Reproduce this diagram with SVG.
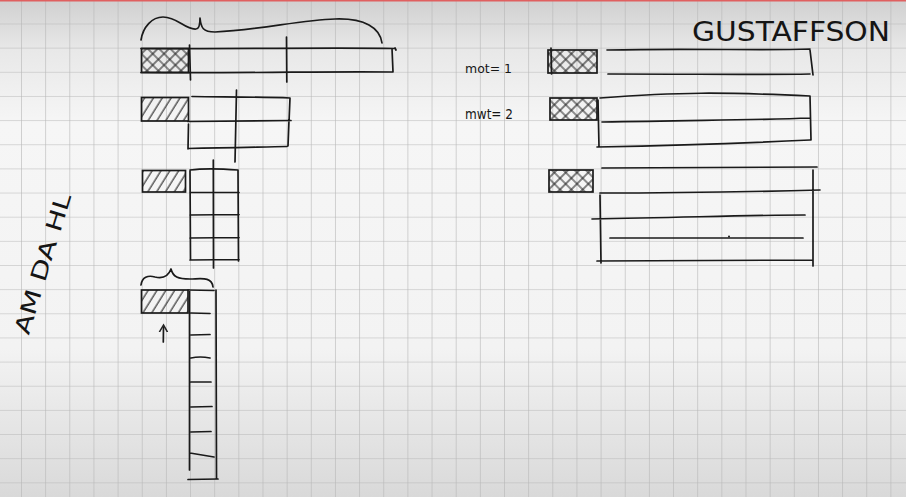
<svg xmlns="http://www.w3.org/2000/svg" width="906" height="497" viewBox="0 0 906 497">
<defs>
<linearGradient id="bg" x1="0" y1="0" x2="0" y2="1">
<stop offset="0" stop-color="#d0d0d0"/>
<stop offset="0.1" stop-color="#e8e8e8"/>
<stop offset="0.25" stop-color="#f6f6f6"/>
<stop offset="0.7" stop-color="#f3f3f3"/>
<stop offset="1" stop-color="#d9d9d9"/>
</linearGradient>
<pattern id="grid" x="21" y="23.5" width="24.15" height="24.15" patternUnits="userSpaceOnUse">
<path d="M0,0 V24.15 M0,0 H24.15" fill="none" stroke="#b6b6b6" stroke-width="1.2"/>
</pattern>
<pattern id="diag" width="7.5" height="7.5" patternUnits="userSpaceOnUse" patternTransform="rotate(32)">
<line x1="2" y1="0" x2="2" y2="7.5" stroke="#222" stroke-width="1.1"/>
</pattern>
<pattern id="cross" width="8" height="8" patternUnits="userSpaceOnUse" patternTransform="rotate(45)">
<path d="M2,0 V8 M0,2 H8" fill="none" stroke="#222" stroke-width="1.1"/>
</pattern>
<marker id="ah" viewBox="0 0 10 10" refX="5" refY="5" markerWidth="6" markerHeight="6" orient="auto">
<path d="M0,1 L7,5 L0,9" fill="none" stroke="#222" stroke-width="1.5"/>
</marker>
</defs>
<style>
.s{fill:none;stroke:#1a1a1a;stroke-width:1.7;stroke-linecap:round;stroke-linejoin:round}
.hd{fill:url(#diag);stroke:#1a1a1a;stroke-width:1.7}
.hc{fill:url(#cross);stroke:#1a1a1a;stroke-width:1.7}
.t{font-family:"DejaVu Sans",sans-serif;fill:#151515}
</style>
<rect width="906" height="497" fill="url(#bg)"/>
<rect width="906" height="497" fill="url(#grid)"/>
<rect x="0" y="0" width="906" height="1.5" fill="#e06060"/>

<g id="title-gustaffson">
<text class="t" x="692" y="41" font-size="26" textLength="198" lengthAdjust="spacingAndGlyphs">GUSTAFFSON</text>
</g>
<g id="title-amdahl">
<text class="t" transform="translate(50,266) rotate(-73)" text-anchor="middle" font-size="22" textLength="146" lengthAdjust="spacingAndGlyphs">AM DA HL</text>
</g>

<g id="amdahl-row1">
<rect class="hc" x="141.5" y="48.5" width="47" height="24"/>
<path class="s" d="M141,48.5 C250,49 330,47.5 395,48.5 M141,72.5 C250,73.5 330,71 392,72 M392,48.5 L393,72 M395,48 L396,50"/>
<path class="s" d="M189.5,45 L190.5,80 M286.5,37 L286.8,82"/>
<path class="s" d="M141,40 C143,27 152,17 163,17 C178,17 185,30 196,29 C199,29 200,24 200,18 C201,28 203,32 215,32 C260,30 300,20 335,19 C365,18 380,28 382,43"/>
</g>

<g id="amdahl-row2">
<rect class="hd" x="141.5" y="97.5" width="47" height="23.5"/>
<path class="s" d="M192,96.5 C230,97 260,97 290,98 L289,122 M188,121.5 L291,120.5 M188.5,124 L188,149 M188,148.5 C230,148 260,147 287,146.5 M289,120 L288,146"/>
<path class="s" d="M236.5,90 L235,162"/>
</g>

<g id="amdahl-row3">
<rect class="hd" x="142.5" y="170.5" width="43" height="21.5"/>
<path class="s" d="M190,171 L190.5,260 M238,170 L238.5,261 M190,170 C205,168 225,169 238,170 M190,192.5 L239,192.5 M190,215 L239,214.5 M190,238 L239,237.5 M190,260 L239,259.5"/>
<path class="s" d="M213.3,160 L213.5,268"/>
</g>

<g id="amdahl-row4">
<path class="s" d="M141,285 C142,277 148,275 155,277 C163,279 168,277 171,269 C173,277 178,279 190,279 C200,279 212,276 213,287"/>
<rect class="hd" x="141.5" y="290" width="46.5" height="23"/>
<path class="s" d="M189.5,290 L189.5,470 M216,290 L216.5,478 M188,290 L214,290.5 M191,313 L210,313.5 M191,335 L210,334.5 M191,358 C200,356 205,357 210,358 M191,382 L211,382 M191,407 L212,406.5 M191,432 L211,431.5 M190,453 L214,457 M188,479.5 L218,479"/>
</g>

<g id="mot1-label"><text class="t" x="465" y="73" font-size="13" textLength="47" lengthAdjust="spacingAndGlyphs">mot= 1</text></g>
<g id="mot2-label"><text class="t" x="465" y="119" font-size="14" textLength="48" lengthAdjust="spacingAndGlyphs">mwt= 2</text></g>

<g id="gustaffson-row1">
<rect class="hc" x="548" y="50" width="49" height="23"/>
<path class="s" d="M551,48 L551.5,74"/>
<path class="s" d="M607,50 C700,48 760,51 810,49 M608,74 C700,74 760,75 810,74 M810,50 L813,75"/>
</g>

<g id="gustaffson-row2">
<rect class="hc" x="550" y="98" width="47" height="22"/>
<path class="s" d="M600,98 C680,92 720,92 810,96 M602,122 C700,120 760,120 810,118 M597,147 C700,145 770,142 810,140 M598,100 L599,147 M810,96 L811,140"/>
</g>

<g id="gustaffson-row3">
<rect class="hc" x="549" y="170" width="44" height="22"/>
<path class="s" d="M602,168 C700,167 780,167 817,167 M600,193 C700,193 780,191 820,190 M592,219 C700,217 760,215 805,215 M610,238 C700,238 760,238 803,238 M597,261 C700,261 780,260 813,260 M600,195 L601,263 M813,170 L813,266"/>
<circle cx="729" cy="236.5" r="1" fill="#1a1a1a"/>
</g>

<g id="connectors">
<path class="s" d="M163.3,342 L163.5,327" marker-end="url(#ah)"/>
</g>
</svg>
